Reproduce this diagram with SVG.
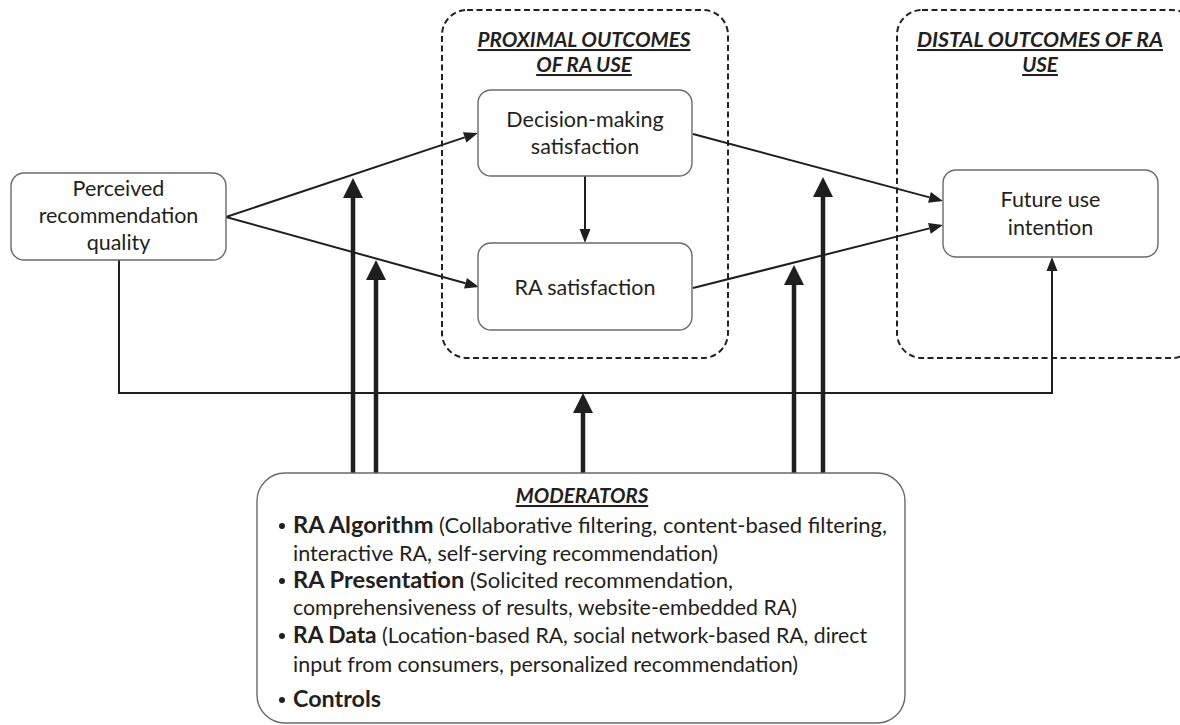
<svg xmlns="http://www.w3.org/2000/svg" width="1180" height="725" viewBox="0 0 1180 725">
  <style>
    .box { fill: #ffffff; stroke: #6a6a6a; stroke-width: 1.4; }
    .group { fill: none; stroke: #222222; stroke-width: 2; stroke-dasharray: 6 3.5; }
    .node-text { font-family: Lato, "Open Sans", "Liberation Sans", sans-serif; font-size: 21.5px; fill: #231f20; text-anchor: middle; }
    .head { font-family: Lato, "Open Sans", "Liberation Sans", sans-serif; font-size: 20.5px; font-weight: bold; font-style: italic; fill: #231f20; text-anchor: middle; text-decoration: underline; }
    .mod { font-family: Lato, "Open Sans", "Liberation Sans", sans-serif; fill: #231f20; }
    .b { font-weight: bold; }
    .thin { fill: none; stroke: #1f1f1f; stroke-width: 2; }
    .thick { fill: none; stroke: #1f1f1f; stroke-width: 4.5; }
  </style>
  <defs>
    <marker id="ah" markerUnits="userSpaceOnUse" markerWidth="14" markerHeight="11" refX="0" refY="5.5" orient="auto" overflow="visible">
      <path d="M0,0 L14,5.5 L0,11 z" fill="#1f1f1f"/>
    </marker>
    <marker id="ahThick" markerUnits="userSpaceOnUse" markerWidth="20" markerHeight="20" refX="0" refY="10" orient="auto" overflow="visible">
      <path d="M0,0 L20,10 L0,20 z" fill="#1f1f1f"/>
    </marker>
  </defs>

  <g id="proximal-group">
    <rect class="group" x="442" y="10" width="286" height="348" rx="25"/>
    <text class="head" x="584" y="47" textLength="213" lengthAdjust="spacingAndGlyphs">PROXIMAL OUTCOMES</text>
    <text class="head" x="584" y="72">OF RA USE</text>
  </g>

  <g id="distal-group">
    <rect class="group" x="897" y="10" width="300" height="348" rx="25"/>
    <text class="head" x="1040" y="47" textLength="246" lengthAdjust="spacingAndGlyphs">DISTAL OUTCOMES OF RA</text>
    <text class="head" x="1040" y="72">USE</text>
  </g>

  <g id="connectors">
    <line class="thin" x1="226" y1="217" x2="464.7" y2="137.4" marker-end="url(#ah)"/>
    <line class="thin" x1="226" y1="217" x2="465.5" y2="283.3" marker-end="url(#ah)"/>
    <line class="thin" x1="585" y1="176" x2="585" y2="229" marker-end="url(#ah)"/>
    <line class="thin" x1="693" y1="134" x2="929.5" y2="197.4" marker-end="url(#ah)"/>
    <line class="thin" x1="693" y1="288" x2="929.4" y2="228.4" marker-end="url(#ah)"/>
    <path class="thin" d="M119,260 V393 H1052 V271" marker-end="url(#ah)"/>
    <line class="thick" x1="353" y1="473" x2="353" y2="198" marker-end="url(#ahThick)"/>
    <line class="thick" x1="376" y1="473" x2="376" y2="280" marker-end="url(#ahThick)"/>
    <line class="thick" x1="583" y1="473" x2="583" y2="413" marker-end="url(#ahThick)"/>
    <line class="thick" x1="794" y1="473" x2="794" y2="285" marker-end="url(#ahThick)"/>
    <line class="thick" x1="823" y1="473" x2="823" y2="197" marker-end="url(#ahThick)"/>
  </g>

  <g id="perceived-quality">
    <rect class="box" x="11" y="173" width="215" height="87" rx="13"/>
    <text class="node-text" x="118.5" y="196">Perceived</text>
    <text class="node-text" x="118.5" y="223">recommendation</text>
    <text class="node-text" x="118.5" y="250">quality</text>
  </g>

  <g id="decision-satisfaction">
    <rect class="box" x="478" y="90" width="214" height="86" rx="13"/>
    <text class="node-text" x="585" y="127">Decision-making</text>
    <text class="node-text" x="585" y="154">satisfaction</text>
  </g>

  <g id="ra-satisfaction">
    <rect class="box" x="478" y="243" width="214" height="87" rx="13"/>
    <text class="node-text" x="585" y="295">RA satisfaction</text>
  </g>

  <g id="future-use">
    <rect class="box" x="943" y="170" width="215" height="87" rx="13"/>
    <text class="node-text" x="1050.5" y="207">Future use</text>
    <text class="node-text" x="1050.5" y="235">intention</text>
  </g>

  <g id="moderators">
    <rect class="box" x="257" y="473" width="648" height="250" rx="28"/>
    <text class="head" x="582" y="503">MODERATORS</text>
    <circle cx="282" cy="526" r="3" fill="#231f20"/>
    <circle cx="282" cy="581" r="3" fill="#231f20"/>
    <circle cx="282" cy="636" r="3" fill="#231f20"/>
    <circle cx="282" cy="700" r="3" fill="#231f20"/>
    <text class="mod" x="293" y="533" style="font-size:20.5px" textLength="594" lengthAdjust="spacingAndGlyphs"><tspan class="b" style="font-size:22px">RA Algorithm</tspan> (Collaborative filtering, content-based filtering,</text>
    <text class="mod" x="293" y="561" style="font-size:20.5px" textLength="425" lengthAdjust="spacingAndGlyphs">interactive RA, self-serving recommendation)</text>
    <text class="mod" x="293" y="588" style="font-size:20.5px" textLength="440" lengthAdjust="spacingAndGlyphs"><tspan class="b" style="font-size:22px">RA Presentation</tspan> (Solicited recommendation,</text>
    <text class="mod" x="293" y="615" style="font-size:20.5px" textLength="504" lengthAdjust="spacingAndGlyphs">comprehensiveness of results, website-embedded RA)</text>
    <text class="mod" x="293" y="643" style="font-size:20.5px" textLength="574" lengthAdjust="spacingAndGlyphs"><tspan class="b" style="font-size:22px">RA Data</tspan> (Location-based RA, social network-based RA, direct</text>
    <text class="mod" x="293" y="672" style="font-size:20.5px" textLength="505" lengthAdjust="spacingAndGlyphs">input from consumers, personalized recommendation)</text>
    <text class="mod b" x="293" y="707" style="font-size:22px" textLength="88" lengthAdjust="spacingAndGlyphs">Controls</text>
  </g>
</svg>
